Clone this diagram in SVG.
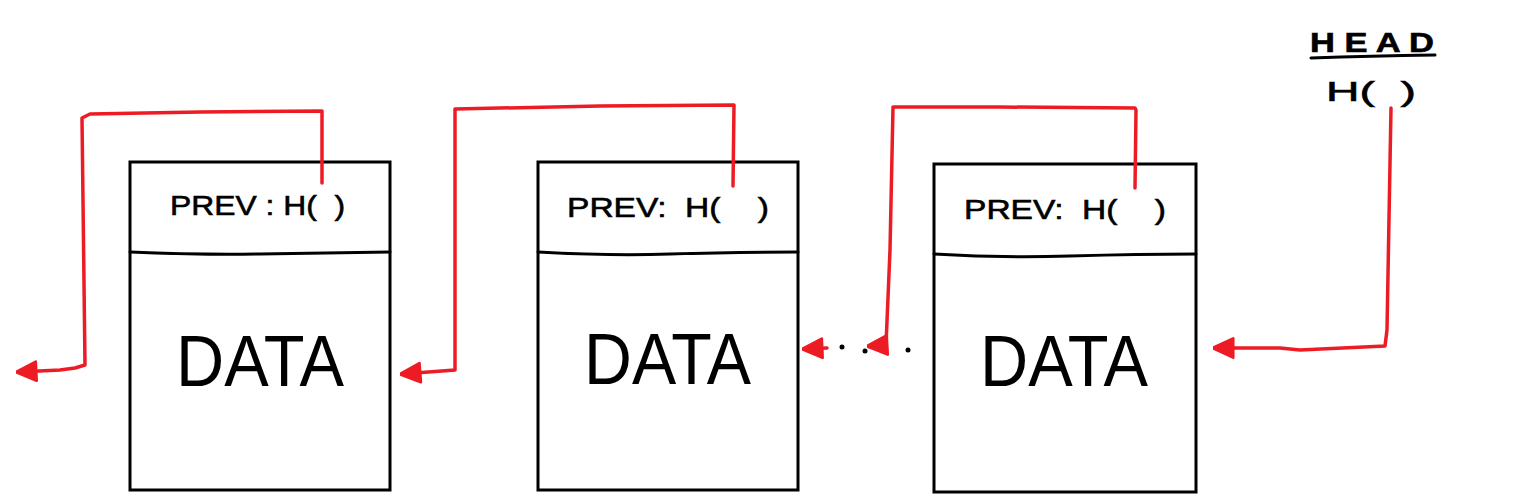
<svg xmlns="http://www.w3.org/2000/svg" width="1525" height="500" viewBox="0 0 1525 500">
<style>
.box{fill:#fff;stroke:#000;stroke-width:3}
.div{fill:none;stroke:#000;stroke-width:3;stroke-linecap:round}
.red{fill:none;stroke:#ed1c24;stroke-width:3.5;stroke-linecap:round;stroke-linejoin:round}
.lbl{font-family:"Liberation Sans",Arial,sans-serif;font-size:28px;fill:#000;stroke:#000;stroke-width:0.6;white-space:pre}
.data{font-family:"Liberation Sans",Arial,sans-serif;font-size:72px;fill:#000}
.dot{fill:#000}
</style>
<defs>
<marker id="ah" viewBox="0 0 10 10" refX="9" refY="5" markerWidth="6.5" markerHeight="6.5" orient="auto" markerUnits="strokeWidth">
<path d="M10,5 L1,0.8 L1,9.2 Z" fill="#ed1c24" stroke="#ed1c24" stroke-width="1.2" stroke-linejoin="round"/>
</marker>
</defs>
<rect width="1525" height="500" fill="#fff"/>
<g id="node1">
<rect class="box" x="130" y="162" width="260" height="328"/>
<path class="div" d="M130,252 Q200,255 260,254 T390,252"/>
<text class="lbl" x="170" y="215" xml:space="preserve" textLength="175" lengthAdjust="spacingAndGlyphs">PREV : H(  )</text>
<text class="data" x="176" y="386" textLength="168" lengthAdjust="spacingAndGlyphs">DATA</text>
</g>
<g id="node2">
<rect class="box" x="538" y="162" width="260" height="328"/>
<path class="div" d="M538,252 Q610,256 670,254 T798,252"/>
<text class="lbl" x="567" y="217" xml:space="preserve" textLength="202" lengthAdjust="spacingAndGlyphs">PREV:  H(    )</text>
<text class="data" x="584" y="384" textLength="167" lengthAdjust="spacingAndGlyphs">DATA</text>
</g>
<g id="node3">
<rect class="box" x="934" y="164" width="262" height="328"/>
<path class="div" d="M934,254 Q1000,258 1070,256 T1196,254"/>
<text class="lbl" x="964" y="219" xml:space="preserve" textLength="202" lengthAdjust="spacingAndGlyphs">PREV:  H(    )</text>
<text class="data" x="980" y="386" textLength="168" lengthAdjust="spacingAndGlyphs">DATA</text>
</g>
<g id="head">
<text class="lbl" x="1310" y="52" font-size="24" font-weight="bold" xml:space="preserve" textLength="124" lengthAdjust="spacingAndGlyphs">H E A D</text>
<path class="div" d="M1311,58 Q1370,56 1435,55"/>
<text class="lbl" x="1326" y="101" font-size="34" xml:space="preserve" textLength="90" lengthAdjust="spacingAndGlyphs">H(  )</text>
</g>
<g id="connectors">
<path class="red" d="M322,183 L322,111 L200,112 L90,114 L82,118 L85,365 L75,368 L60,370 L18,372" marker-end="url(#ah)"/>
<path class="red" d="M733,186 L734,105 L600,106 L455,109 L455,370 L402,374" marker-end="url(#ah)"/>
<path class="red" d="M1135,188 L1136,110 L1135,108 L1000,107 L893,107 L890,250 L886,345 L869,346" marker-end="url(#ah)"/>
<path class="red" d="M827,348 L804,349" marker-end="url(#ah)"/>
<circle class="dot" cx="842" cy="347" r="2.5"/>
<circle class="dot" cx="865" cy="351" r="2.5"/>
<circle class="dot" cx="908" cy="350" r="2.5"/>
<path class="red" d="M1391,108 L1387,330 L1385,346 L1300,350 L1280,348 L1215,348" marker-end="url(#ah)"/>
</g>
</svg>
